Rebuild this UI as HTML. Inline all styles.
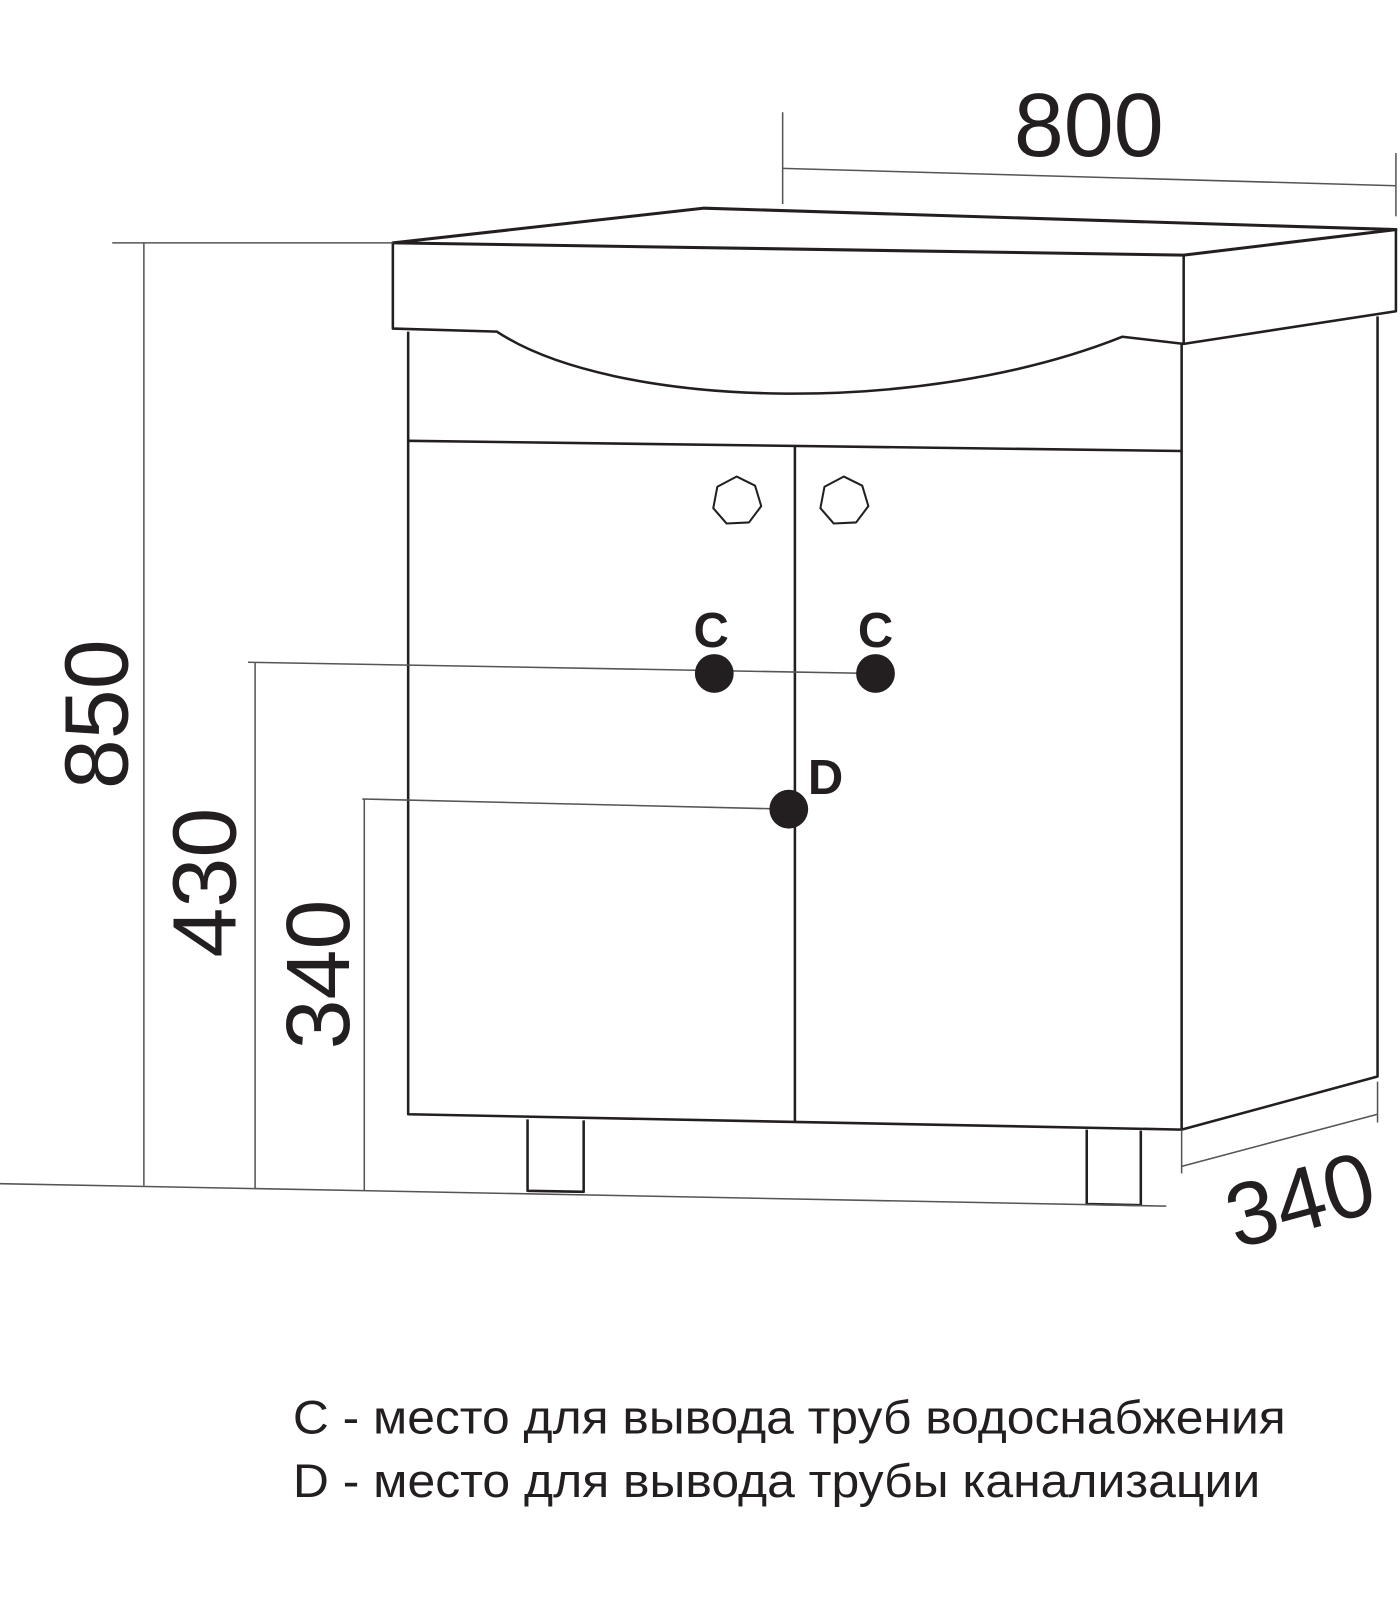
<!DOCTYPE html>
<html><head><meta charset="utf-8"><style>
html,body{margin:0;padding:0;background:#fff;}
svg{display:block;}
text{font-family:"Liberation Sans","DejaVu Sans",sans-serif;fill:#231f20;}
</style></head><body>
<svg width="1400" height="1600" viewBox="0 0 1372 1568" xmlns="http://www.w3.org/2000/svg">
<g stroke="#231f20" fill="none" stroke-width="2.5" stroke-linejoin="round">
<path d="M385,238 L690,204 L1368,225 L1160,250 Z" stroke-width="3"/>
<path d="M385,238 L385,322 L487,325 C600,400 900,410 1100,330 L1160,337 L1160,250"/>
<path d="M1160,337 L1368,305 L1368,225"/>
<path d="M400,325 L400,1092 L1158,1107 L1158,337"/>
<path d="M1350,310 L1350,1055 L1158,1107"/>
<path d="M400,432 L1158,442"/>
<path d="M779,437 L779,1100"/>
<path d="M517,1097 L517,1167 L572,1168 L572,1098"/>
<path d="M1065,1107 L1065,1180 L1118,1181 L1118,1108"/>
<polygon stroke-width="2" points="722,467 740,476 746,496 734,512 712,513 699,498 703,477"/>
<polygon stroke-width="2" points="827,467 845,476 851,496 839,512 817,513 804,498 808,477"/>
</g>
<g stroke="#555" fill="none" stroke-width="1.5">
<path d="M767,110 L767,200"/>
<path d="M1368,150 L1368,212"/>
<path d="M767,165 L1368,182"/>
<path d="M110,238 L385,238"/>
<path d="M141,238 L141,1162"/>
<path d="M0,1160 L1143,1182"/>
<path d="M243,649 L858,660"/>
<path d="M250,649 L250,1165"/>
<path d="M355,783 L773,793"/>
<path d="M357,783 L357,1167"/>
<path d="M1158,1107 L1158,1150"/>
<path d="M1158,1143 L1350,1092"/>
<path d="M1350,1060 L1350,1100"/>
</g>
<g fill="#231f20">
<circle cx="700" cy="660" r="19"/>
<circle cx="858" cy="660" r="19"/>
<circle cx="773" cy="793" r="19"/>
</g>
<text x="1067" y="153" font-size="88" text-anchor="middle">800</text>
<text transform="translate(125,700) rotate(-90)" font-size="88" text-anchor="middle">850</text>
<text transform="translate(231,865) rotate(-90)" font-size="88" text-anchor="middle">430</text>
<text transform="translate(342,955) rotate(-90)" font-size="88" text-anchor="middle">340</text>
<text transform="translate(1282,1205) rotate(-15)" font-size="88" text-anchor="middle">340</text>
<text x="697" y="634" font-size="48" text-anchor="middle" font-weight="bold">C</text>
<text x="858" y="634" font-size="48" text-anchor="middle" font-weight="bold">C</text>
<text x="809" y="778" font-size="48" text-anchor="middle" font-weight="bold">D</text>
<text x="287" y="1405" font-size="46" textLength="973" lengthAdjust="spacingAndGlyphs">C - место для вывода труб водоснабжения</text>
<text x="287" y="1467" font-size="46" textLength="948" lengthAdjust="spacingAndGlyphs">D - место для вывода трубы канализации</text>
</svg>
</body></html>
